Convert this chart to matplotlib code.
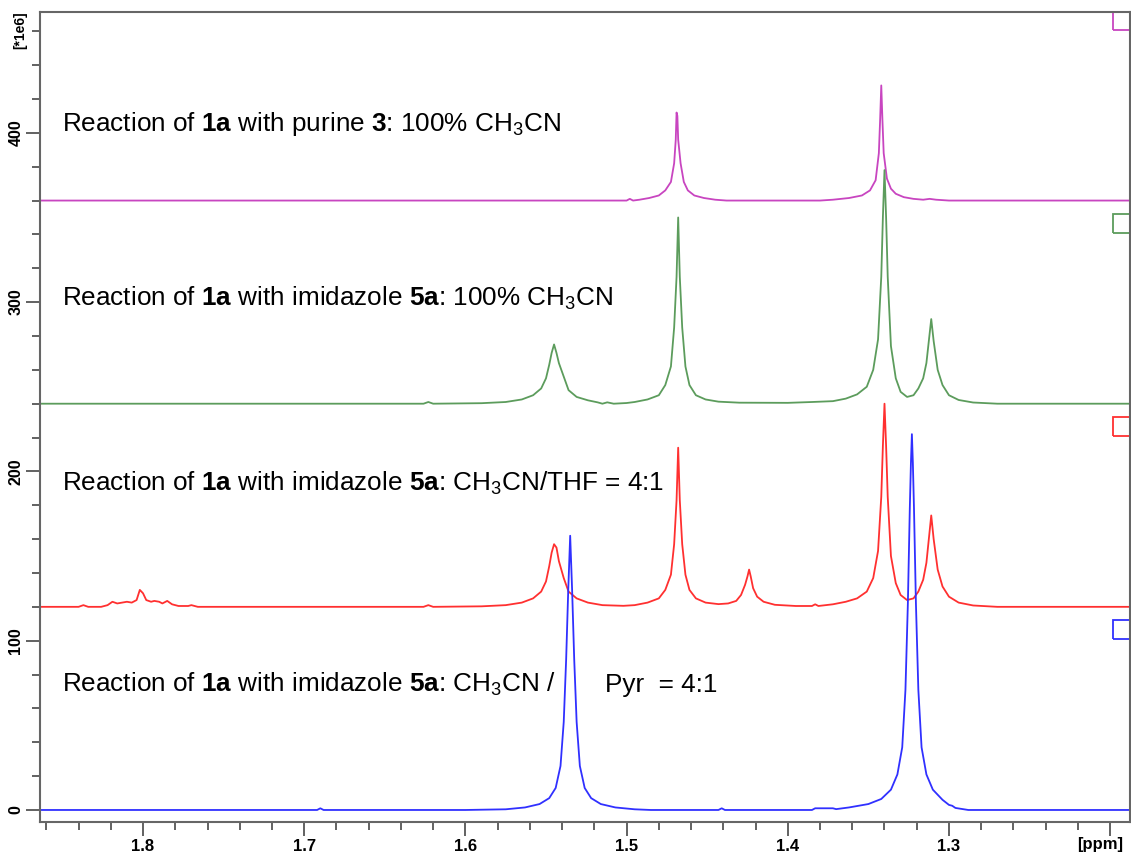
import matplotlib.pyplot as plt
from matplotlib.patches import Rectangle
from matplotlib.ticker import MultipleLocator, FixedLocator

# === SETTINGS ===
OUTPUT_IMAGE = 'out.png'
plt.rcParams['font.family'] = ['Liberation Sans', 'DejaVu Sans']
plt.rcParams['mathtext.fontset'] = 'custom'
plt.rcParams['mathtext.rm'] = 'Liberation Sans'
plt.rcParams['mathtext.bf'] = 'Liberation Sans:bold'
plt.rcParams['mathtext.default'] = 'regular'

# === DATA (ppm, intensity in 1e6 above each trace's own baseline) ===
BLUE = [(1.864, 0), (1.692, 0), (1.690, 1), (1.688, 0), (1.600, 0), (1.575, 0.4),
        (1.563, 1.5), (1.554, 3.5), (1.548, 7), (1.544, 13), (1.541, 26), (1.539, 52),
        (1.5375, 89), (1.5362, 130), (1.535, 162), (1.5338, 130), (1.5325, 89),
        (1.531, 52), (1.529, 26), (1.526, 13), (1.522, 7), (1.516, 3.5), (1.507, 1.5),
        (1.495, 0.4), (1.485, 0), (1.443, 0), (1.441, 1), (1.439, 0), (1.385, 0),
        (1.383, 1), (1.372, 1), (1.370, 0.5), (1.362, 1.5), (1.350, 3.5), (1.342, 6.5),
        (1.336, 12), (1.332, 21), (1.329, 37), (1.327, 71), (1.3255, 122),
        (1.3243, 178), (1.3236, 205), (1.323, 222), (1.3224, 205), (1.3217, 178),
        (1.3205, 122), (1.319, 71), (1.317, 37), (1.314, 21), (1.310, 12), (1.304, 6),
        (1.300, 3), (1.298, 2.5), (1.296, 1.2), (1.288, 0), (1.188, 0)]

RED = [(1.864, 0), (1.840, 0), (1.837, 1), (1.834, 0), (1.826, 0), (1.822, 1),
       (1.819, 3), (1.816, 2), (1.813, 2.5), (1.810, 3), (1.807, 2.5), (1.804, 4),
       (1.802, 10), (1.800, 8), (1.798, 4), (1.795, 3), (1.793, 3.5), (1.790, 3),
       (1.788, 2), (1.785, 3.5), (1.782, 1.5), (1.778, 0.5), (1.772, 0.5), (1.770, 1),
       (1.766, 0), (1.626, 0), (1.623, 1), (1.620, 0), (1.590, 0.3), (1.575, 1),
       (1.565, 2.5), (1.558, 5), (1.553, 9), (1.550, 15), (1.548, 24), (1.5465, 32),
       (1.545, 37), (1.5435, 35), (1.542, 27), (1.539, 17), (1.536, 9), (1.531, 5),
       (1.524, 2.5), (1.515, 1), (1.502, 0.6), (1.495, 1), (1.487, 2.5), (1.480, 5),
       (1.476, 10), (1.4725, 19), (1.4705, 37), (1.469, 63), (1.468, 94), (1.467, 63),
       (1.4655, 37), (1.4635, 19), (1.461, 10), (1.457, 5), (1.451, 2.5), (1.443, 1.6),
       (1.437, 2), (1.432, 3.5), (1.429, 7), (1.4265, 13), (1.425, 18), (1.424, 22),
       (1.423, 18), (1.4215, 11), (1.419, 6), (1.415, 3), (1.408, 1.2), (1.395, 0.5),
       (1.385, 0.5), (1.383, 1.5), (1.381, 0.5), (1.372, 1.5), (1.364, 3), (1.357, 5),
       (1.351, 9), (1.347, 17), (1.344, 33), (1.342, 65), (1.341, 95), (1.340, 120),
       (1.339, 95), (1.338, 65), (1.336, 30), (1.333, 14), (1.330, 7), (1.326, 4),
       (1.322, 5), (1.319, 9), (1.316, 16), (1.314, 26), (1.3125, 40), (1.311, 54),
       (1.3095, 40), (1.307, 22), (1.304, 12), (1.300, 6), (1.294, 2.5), (1.285, 0.8),
       (1.270, 0), (1.188, 0)]

GREEN = [(1.864, 0), (1.626, 0), (1.623, 1), (1.620, 0), (1.590, 0.3), (1.575, 1),
         (1.565, 2.5), (1.558, 5), (1.553, 9), (1.550, 15), (1.548, 23), (1.5465, 30),
         (1.545, 35), (1.5435, 30), (1.542, 24), (1.539, 16), (1.536, 8), (1.531, 4),
         (1.524, 2), (1.518, 0.8), (1.515, 0), (1.512, 0.8), (1.508, 0), (1.500, 0.4),
         (1.495, 1), (1.487, 2.5), (1.480, 5), (1.476, 11), (1.4725, 22), (1.4705, 45),
         (1.469, 75), (1.468, 110), (1.467, 75), (1.4655, 45), (1.4635, 22),
         (1.461, 11), (1.457, 5), (1.451, 2.5), (1.443, 1.2), (1.430, 0.6),
         (1.400, 0.5), (1.385, 1), (1.372, 1.5), (1.364, 3), (1.357, 5.5), (1.351, 10),
         (1.347, 20), (1.344, 38), (1.342, 75), (1.341, 110), (1.340, 138),
         (1.339, 110), (1.338, 75), (1.336, 34), (1.333, 15), (1.330, 7), (1.326, 4),
         (1.322, 5), (1.319, 9), (1.316, 15), (1.314, 24), (1.3125, 37), (1.311, 50),
         (1.3095, 37), (1.307, 20), (1.304, 11), (1.300, 5), (1.294, 2.2), (1.285, 0.7),
         (1.270, 0), (1.188, 0)]

MAGENTA = [(1.864, 0), (1.500, 0), (1.498, 1), (1.496, 0), (1.492, 0.5), (1.486, 1.5),
           (1.480, 3), (1.476, 6), (1.4725, 11), (1.4705, 22), (1.4695, 36), (1.469, 52),
           (1.4685, 50), (1.468, 36), (1.4665, 22), (1.4645, 11), (1.462, 6), (1.458, 3),
           (1.452, 1.5), (1.445, 0.5), (1.438, 0), (1.380, 0), (1.372, 0.5), (1.362, 1.5),
           (1.354, 3), (1.349, 6), (1.3455, 12), (1.3435, 28), (1.3427, 48), (1.342, 68),
           (1.3413, 48), (1.3405, 28), (1.3385, 13), (1.336, 7), (1.333, 4), (1.328, 2),
           (1.322, 1), (1.316, 0.5), (1.312, 1), (1.308, 0.5), (1.300, 0), (1.188, 0)]

TRACES = [MAGENTA, GREEN, RED, BLUE]
OFFSETS = [360, 240, 120, 0]
COLORS = ['#c845c0', '#5c9c5c', '#ff3030', '#3030ff']
LABEL_Y = [405, 302, 193, 74]
LABELS = [r'Reaction of $\mathbf{1a}$ with purine $\mathbf{3}$: 100% CH$_3$CN',
          r'Reaction of $\mathbf{1a}$ with imidazole $\mathbf{5a}$: 100% CH$_3$CN',
          r'Reaction of $\mathbf{1a}$ with imidazole $\mathbf{5a}$: CH$_3$CN/THF = 4:1',
          r'Reaction of $\mathbf{1a}$ with imidazole $\mathbf{5a}$: CH$_3$CN /']
PYR_LABEL = 'Pyr  = 4:1'
X_TICKS = [1.8, 1.7, 1.6, 1.5, 1.4, 1.3, 1.2]
X_TICK_LABELS = ['1.8', '1.7', '1.6', '1.5', '1.4', '1.3', '']
UNIT_LABEL = '[ppm]'
Y_TICKS = [0, 100, 200, 300, 400]

# === PLOTTING ===
fig = plt.figure(figsize=(11.31, 8.55), dpi=100)
ax = fig.add_axes([0.0354, 0.0386, 0.9637, 0.9474])

for trace, off, col in zip(TRACES, OFFSETS, COLORS):
    xs = [p[0] for p in trace]
    ys = [p[1] + off for p in trace]
    ax.plot(xs, ys, color=col, lw=1.3)
    # little box marker at the right edge of each trace
    ax.add_patch(Rectangle((1.1983, off + 101), -0.02, 11, fill=False,
                           edgecolor=col, lw=1.3, clip_on=True))

for txt, y in zip(LABELS, LABEL_Y):
    ax.text(1.850, y, txt, fontsize=18.8, va='center', ha='left')
ax.text(1.5134, LABEL_Y[3], PYR_LABEL, fontsize=18.8, va='center', ha='left')

ax.set_xlim(1.8639, 1.1877)
ax.set_ylim(-7.1, 471.4)

ax.xaxis.set_major_locator(FixedLocator(X_TICKS))
ax.set_xticklabels(X_TICK_LABELS, fontweight='bold', fontsize=12)
ax.xaxis.set_minor_locator(MultipleLocator(0.02))
ax.yaxis.set_major_locator(FixedLocator(Y_TICKS))
ax.set_yticklabels([str(v) for v in Y_TICKS], fontweight='bold', fontsize=11.5,
                   rotation=90, va='center')
ax.yaxis.set_minor_locator(MultipleLocator(20))

ax.annotate(UNIT_LABEL, xy=(1.2065, 0), xycoords=('data', 'axes fraction'),
            xytext=(0, -10.5), textcoords='offset points', ha='center', va='top',
            fontsize=12, fontweight='bold')

ax.tick_params(which='major', length=10, width=1.3, color='#555555', pad=2)
ax.tick_params(which='minor', length=6, width=1.3, color='#555555')
for s in ax.spines.values():
    s.set_color('#666666')
    s.set_linewidth(1.5)

fig.text(0.018, 0.965, '[*1e6]', rotation=90, fontsize=10, fontweight='bold',
         ha='center', va='center')

plt.savefig(OUTPUT_IMAGE, dpi=100)
